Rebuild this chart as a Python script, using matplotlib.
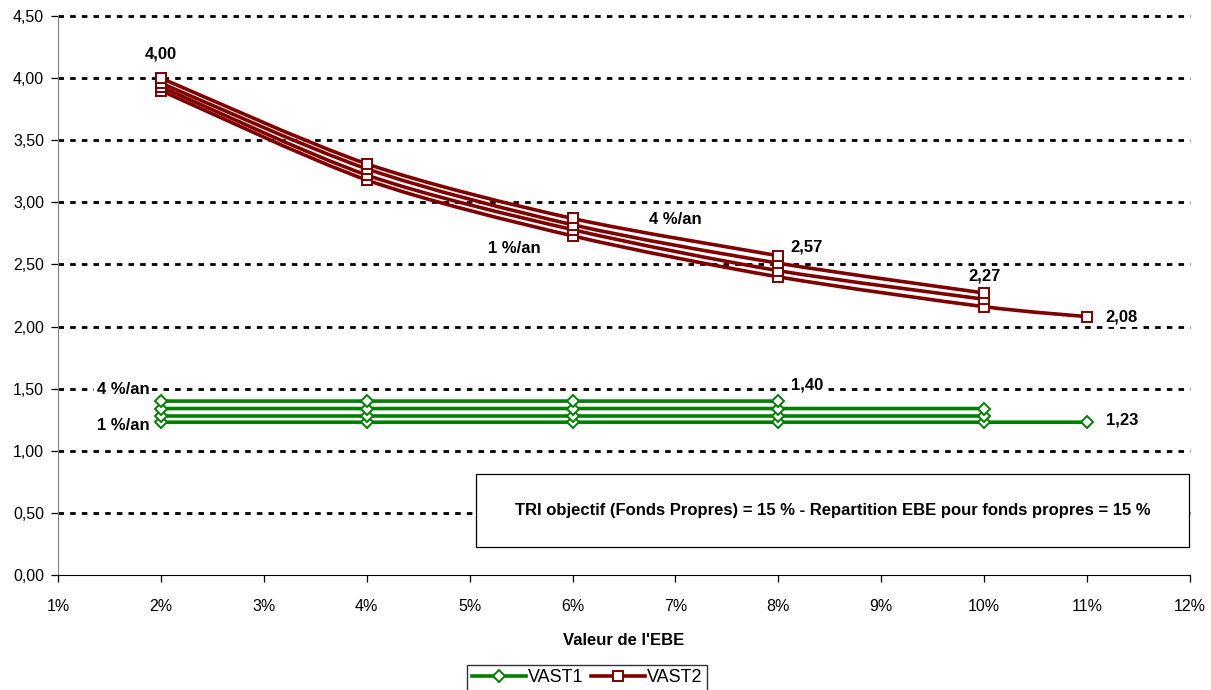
import matplotlib
matplotlib.use("Agg")
import matplotlib.pyplot as plt
from matplotlib.path import Path
from matplotlib.patches import PathPatch, Rectangle
from matplotlib.lines import Line2D
from matplotlib.ticker import FuncFormatter, MultipleLocator

plt.rcParams["font.family"] = ["Liberation Sans", "DejaVu Sans"]

# EBE values (%) for each curve, one curve per growth rate (1..4 %/an)
ebe_1 = [2, 4, 6, 8, 10, 11]
ebe_2 = [2, 4, 6, 8, 10]
ebe_3 = [2, 4, 6, 8, 10]
ebe_4 = [2, 4, 6, 8]

# VAST1 (green)
vast1_1 = [1.23, 1.23, 1.23, 1.23, 1.23, 1.23]
vast1_2 = [1.28, 1.28, 1.28, 1.28, 1.28]
vast1_3 = [1.34, 1.34, 1.34, 1.34, 1.34]
vast1_4 = [1.40, 1.40, 1.40, 1.40]

# VAST2 (red)
vast2_1 = [3.90, 3.18, 2.73, 2.40, 2.16, 2.08]
vast2_2 = [3.93, 3.22, 2.78, 2.45, 2.22]
vast2_3 = [3.96, 3.27, 2.82, 2.51, 2.27]
vast2_4 = [4.00, 3.31, 2.87, 2.57]

GREEN = "#008000"
RED = "#800000"


def smooth_path(xs, ys):
    # Excel-like smoothed line: Catmull-Rom segments as cubic Beziers
    verts = [(xs[0], ys[0])]
    codes = [Path.MOVETO]
    n = len(xs)
    for i in range(n - 1):
        x0, y0 = (xs[i - 1], ys[i - 1]) if i > 0 else (xs[i], ys[i])
        x1, y1 = xs[i], ys[i]
        x2, y2 = xs[i + 1], ys[i + 1]
        x3, y3 = (xs[i + 2], ys[i + 2]) if i + 2 < n else (x2, y2)
        c1 = (x1 + (x2 - x0) / 7.0, y1 + (y2 - y0) / 7.0)
        c2 = (x2 - (x3 - x1) / 7.0, y2 - (y3 - y1) / 7.0)
        verts += [c1, c2, (x2, y2)]
        codes += [Path.CURVE4] * 3
    return Path(verts, codes)


fig = plt.figure(figsize=(12.11, 6.90), dpi=100)
ax = fig.add_axes([58 / 1211, 115 / 690, 1132 / 1211, 559 / 690])

ax.set_xlim(1, 12)
ax.set_ylim(0, 4.5)

# grid
for yv in [0.5, 1.0, 1.5, 2.0, 2.5, 3.0, 3.5, 4.0, 4.5]:
    ax.axhline(yv, color="black", lw=2.0, ls=(0, (2.0, 2.2)), zorder=1, clip_on=False)

series = [
    (ebe_1, vast1_1, GREEN, "D"), (ebe_2, vast1_2, GREEN, "D"),
    (ebe_3, vast1_3, GREEN, "D"), (ebe_4, vast1_4, GREEN, "D"),
    (ebe_1, vast2_1, RED, "s"), (ebe_2, vast2_2, RED, "s"),
    (ebe_3, vast2_3, RED, "s"), (ebe_4, vast2_4, RED, "s"),
]
for i, (xs, ys, col, mk) in enumerate(series):
    ax.add_patch(PathPatch(smooth_path(xs, ys), fill=False, edgecolor=col,
                           lw=2.6, zorder=3 + i))
    ax.plot(xs, ys, ls="none", marker=mk, ms=7.5 if mk == "s" else 6.5,
            mfc="white", mec=col, mew=1.4, zorder=3 + i)

# value labels
bold = dict(fontsize=12, fontweight="bold", color="black", zorder=20)
wbg = dict(boxstyle="square,pad=0.15", fc="white", ec="none")
ax.text(ebe_4[0], vast2_4[0] + 0.13, "4,00", ha="center", va="bottom", **bold)
ax.text(ebe_4[-1] + 0.12, vast2_4[-1] + 0.07, "2,57", ha="left", va="center", **bold)
ax.text(ebe_3[-1], vast2_3[-1] + 0.08, "2,27", ha="center", va="bottom", bbox=wbg, **bold)
ax.text(ebe_1[-1] + 0.18, vast2_1[-1], "2,08", ha="left", va="center", bbox=wbg, **bold)
ax.text(ebe_4[-1] + 0.12, vast1_4[-1] + 0.13, "1,40", ha="left", va="center", bbox=wbg, **bold)
ax.text(ebe_1[-1] + 0.18, vast1_1[-1] + 0.02, "1,23", ha="left", va="center", **bold)
ax.text(7.0, 2.86, "4 %/an", ha="center", va="center", **bold)
ax.text(5.43, 2.63, "1 %/an", ha="center", va="center", **bold)
ax.text(1.63, 1.49, "4 %/an", ha="center", va="center", bbox=wbg, **bold)
ax.text(1.63, 1.20, "1 %/an", ha="center", va="center", **bold)

# annotation box
ax.add_patch(Rectangle((5.06, 0.225), 6.93, 0.59, facecolor="white",
                       edgecolor="black", lw=0.9, zorder=21, clip_on=False))
ax.text(8.53, 0.52, "TRI objectif (Fonds Propres) = 15 % - Repartition EBE pour fonds propres = 15 %",
        ha="center", va="center", fontsize=12, fontweight="bold", zorder=22)

# axes style
for s in ["top", "right"]:
    ax.spines[s].set_visible(False)
ax.spines["left"].set_color("#808080")
ax.spines["bottom"].set_color("black")
ax.xaxis.set_major_locator(MultipleLocator(1))
ax.yaxis.set_major_locator(MultipleLocator(0.5))
ax.xaxis.set_major_formatter(FuncFormatter(lambda v, p: "%d%%" % round(v)))
ax.yaxis.set_major_formatter(FuncFormatter(lambda v, p: ("%.2f" % v).replace(".", ",")))
ax.tick_params(direction="out", length=5, width=0.9, labelsize=11.5, pad=5)
ax.tick_params(axis="x", pad=12)
ax.set_xlabel("Valeur de l'EBE", fontsize=12, fontweight="bold", labelpad=14)

handles = [
    Line2D([], [], color=GREEN, lw=2.6, marker="D", ms=6.5, mfc="white", mec=GREEN, mew=1.4),
    Line2D([], [], color=RED, lw=2.6, marker="s", ms=7.5, mfc="white", mec=RED, mew=1.4),
]
fig.legend(handles, ["VAST1", "VAST2"], loc="lower center", bbox_to_anchor=(587 / 1211, -0.014),
           ncol=2, frameon=True, fancybox=False, edgecolor="black", fontsize=13,
           handlelength=3.0, handletextpad=0.1, columnspacing=0.4, borderpad=0.25)

fig.savefig("out.png", dpi=100)
